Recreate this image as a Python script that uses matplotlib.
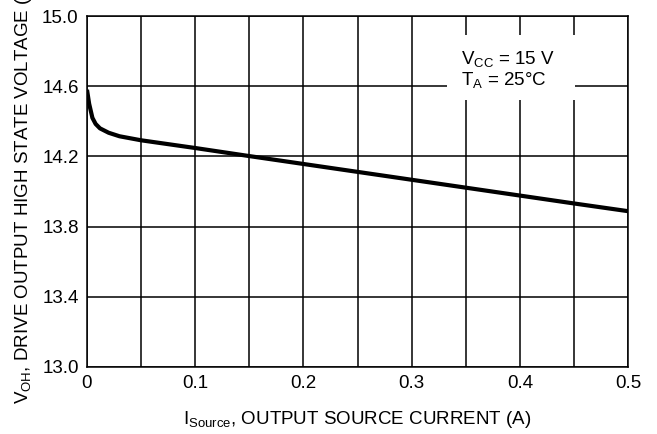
import matplotlib
matplotlib.use("Agg")
import matplotlib.pyplot as plt
from matplotlib import font_manager
from matplotlib.patches import Rectangle

# Output source current (A) and high-state drive voltage (V)
source_current = [0.0, 0.002, 0.005, 0.008, 0.012, 0.02, 0.03, 0.05, 0.075, 0.1,
                  0.15, 0.2, 0.25, 0.3, 0.35, 0.4, 0.45, 0.5]
voh = [14.58, 14.50, 14.42, 14.385, 14.36, 14.335, 14.315, 14.292, 14.27, 14.248,
       14.202, 14.157, 14.112, 14.067, 14.022, 13.977, 13.932, 13.888]

x_ticks = [0, 0.1, 0.2, 0.3, 0.4, 0.5]
x_tick_labels = ["0", "0.1", "0.2", "0.3", "0.4", "0.5"]
y_ticks = [13.0, 13.4, 13.8, 14.2, 14.6, 15.0]
y_tick_labels = ["13.0", "13.4", "13.8", "14.2", "14.6", "15.0"]
x_grid = [0.05 * i for i in range(11)]

installed = {f.name for f in font_manager.fontManager.ttflist}
FONT = "Liberation Sans Narrow" if "Liberation Sans Narrow" in installed else "Liberation Sans"

plt.rcParams.update(
    {
        "font.family": [FONT, "DejaVu Sans"],
        "mathtext.fontset": "custom",
        "mathtext.rm": FONT,
        "mathtext.it": FONT,
        "mathtext.bf": FONT,
        "font.size": 13.5,
    }
)

fig = plt.figure(figsize=(6.57, 4.34), dpi=100)
ax = fig.add_axes([0.1324, 0.1544, 0.8236, 0.8086])

for xv in x_grid:
    ax.axvline(xv, color="black", lw=1.1, zorder=1)
for yv in y_ticks:
    ax.axhline(yv, color="black", lw=1.1, zorder=1)

ax.plot(source_current, voh, color="black", lw=3.0, solid_capstyle="butt", zorder=3)

ax.set_xlim(0, 0.5)
ax.set_ylim(13.0, 15.0)
ax.set_xticks(x_ticks)
ax.set_xticklabels(x_tick_labels)
ax.set_yticks(y_ticks)
ax.set_yticklabels(y_tick_labels)
ax.tick_params(length=0, pad=6, labelsize=13.5)
for sp in ax.spines.values():
    sp.set_linewidth(1.1)

ax.set_xlabel(r"$\mathregular{I_{Source}}$, OUTPUT SOURCE CURRENT (A)", fontsize=13.5, labelpad=12)
ax.set_ylabel(r"$\mathregular{V_{OH}}$, DRIVE OUTPUT HIGH STATE VOLTAGE (V)", fontsize=13.5, labelpad=6)

# white patch behind the conditions note, breaking the grid lines
ax.add_patch(Rectangle((0.333, 14.52), 0.118, 0.37, facecolor="white",
                       edgecolor="none", zorder=2))
ax.text(0.346, 14.815, "$\\mathregular{V_{CC}}$ = 15 V\n$\\mathregular{T_A}$ = 25\u00b0C",
        fontsize=13.5, ha="left", va="top", linespacing=1.1, zorder=4)

fig.savefig("out.png", dpi=100)
